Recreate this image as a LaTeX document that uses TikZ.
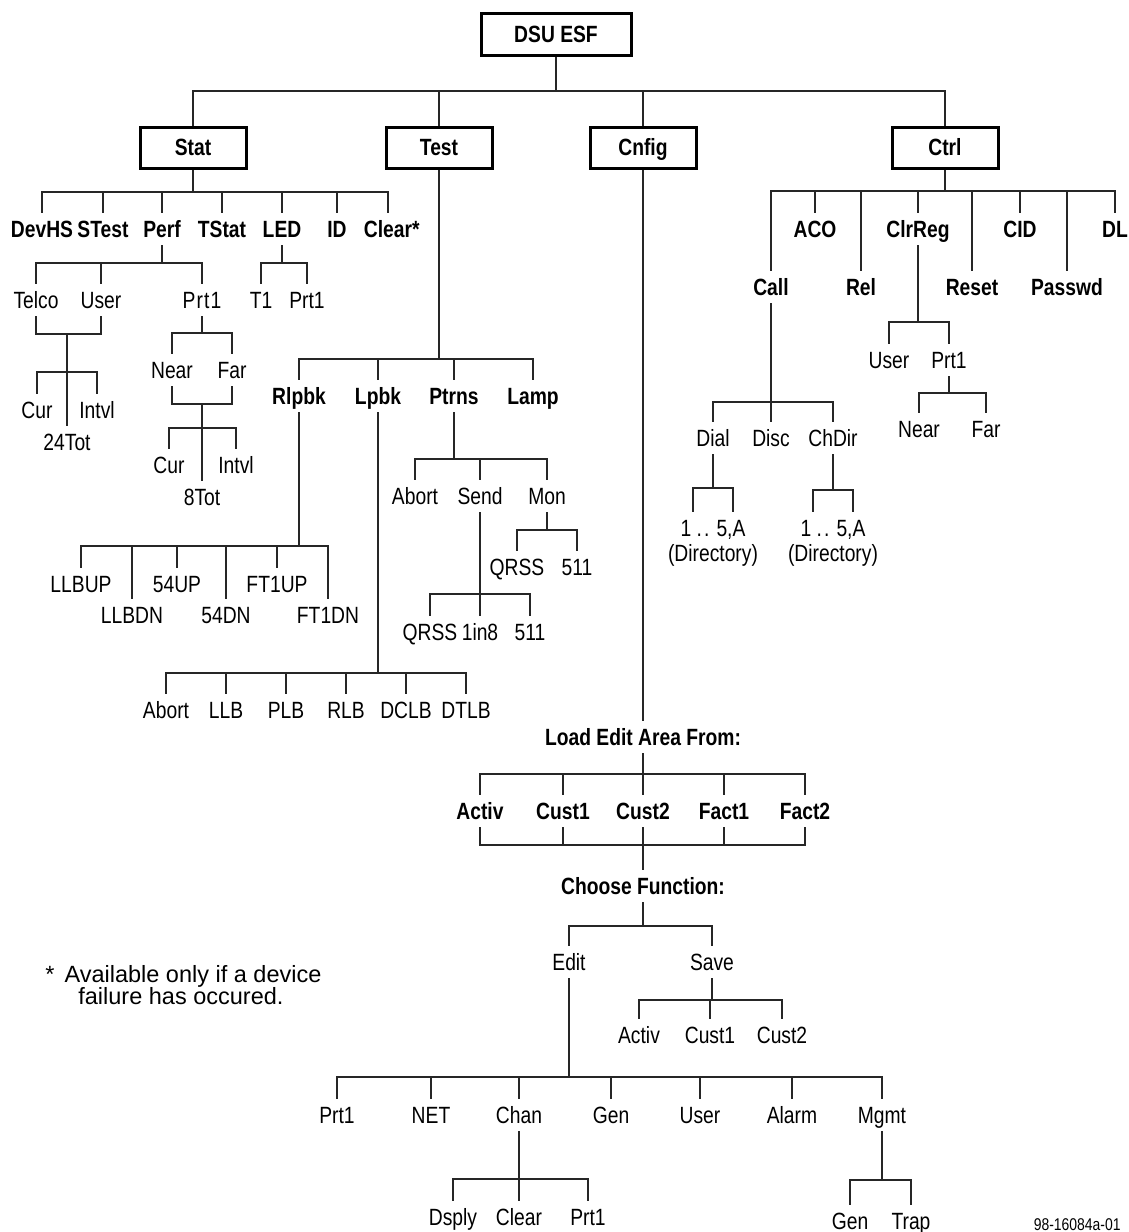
\documentclass[tikz,border=0pt]{standalone}
\usepackage{fontspec}
\setmainfont{Liberation Sans}[FakeStretch=0.82]
\newfontfamily\plainsans{Liberation Sans}
\tikzset{
  menu/.style={draw,line width=1.5pt,minimum width=53pt,minimum height=20.5pt,
    inner sep=0pt,text height=8.4pt,text depth=0pt,
    font=\bfseries\fontsize{11.75}{13}\selectfont},
  item/.style={inner sep=0pt,outer xsep=0pt,outer ysep=4pt,
    text height=8.4pt,text depth=0pt,font=\fontsize{11.75}{13}\selectfont},
  bitem/.style={item,font=\bfseries\fontsize{11.75}{13}\selectfont},
  link/.style={draw=black!85,line width=0.75pt},
}

\begin{document}
\begin{tikzpicture}[x=0.5pt,y=-0.5pt]
\useasboundingbox (0,0) rectangle (1129,1232);

% main menu
\node[menu,minimum width=75pt,minimum height=21pt] (dsu) at (556,34.5) {DSU ESF};
\node[menu] (stat) at (193,147.5) {Stat};
\node[menu] (test) at (439,147.5) {Test};
\node[menu] (cnfig) at (643,147.5) {Cnfig};
\node[menu] (ctrl) at (945,147.5) {Ctrl};
\coordinate (topbar) at (556,91);
\draw[link] (dsu) -- (topbar);
\foreach \c in {stat,test,cnfig,ctrl} \draw[link] (\c) |- (topbar);

% Stat
\node[bitem] (devhs) at (42,229) {DevHS};
\node[bitem] (stest) at (103,229) {STest};
\node[bitem] (perf) at (162,229) {Perf};
\node[bitem] (tstat) at (222,229) {TStat};
\node[bitem] (led) at (282,229) {LED};
\node[bitem] (id) at (337,229) {ID};
\node[bitem] (clear) at (388,229) {Clear\rlap{*}};
\coordinate (statbar) at (193,192);
\draw[link] (stat) -- (statbar);
\foreach \c in {devhs,stest,perf,tstat,led,id,clear} \draw[link] (\c.north) |- (statbar);

\node[item] (telco) at (36,300) {Telco};
\node[item] (user) at (101,300) {User};
\node[item] (perfprt) at (202,300) {P\kern.6pt r\kern.6pt t\kern.6pt 1};
\coordinate (perfbar) at (162,263);
\draw[link] (perf) -- (perfbar);
\foreach \c in {telco,user,perfprt} \draw[link] (\c.north) |- (perfbar);

\node[item] (ledt) at (261,300) {T1};
\node[item] (ledprt) at (307,300) {Prt1};
\coordinate (ledbar) at (282,263);
\draw[link] (led) -- (ledbar);
\foreach \c in {ledt,ledprt} \draw[link] (\c.north) |- (ledbar);

\coordinate (tujoin) at (67,334);
\foreach \c in {telco,user} \draw[link] (\c.south) |- (tujoin);
\node[item] (cura) at (37,410) {Cur};
\node[item] (intvla) at (97,410) {Intvl};
\node[item] (tota) at (67,442) {24Tot};
\coordinate (curabar) at (67,372);
\draw[link] (tujoin) -- (tota);
\foreach \c in {cura,intvla} \draw[link] (\c.north) |- (curabar);

\node[item] (neara) at (172,370) {Near};
\node[item] (fara) at (232,370) {Far};
\coordinate (nfbar) at (202,333);
\draw[link] (perfprt) -- (nfbar);
\foreach \c in {neara,fara} \draw[link] (\c.north) |- (nfbar);
\coordinate (nfjoin) at (202,404);
\foreach \c in {neara,fara} \draw[link] (\c.south) |- (nfjoin);
\node[item] (curb) at (169,465) {Cur};
\node[item] (intvlb) at (236,465) {Intvl};
\node[item] (totb) at (202,497) {8Tot};
\coordinate (curbbar) at (202,428);
\draw[link] (nfjoin) -- (totb);
\foreach \c in {curb,intvlb} \draw[link] (\c.north) |- (curbbar);

% Test
\node[bitem] (rlpbk) at (299,396) {Rlpbk};
\node[bitem] (lpbk) at (378,396) {Lpbk};
\node[bitem] (ptrns) at (454,396) {Ptrns};
\node[bitem] (lamp) at (533,396) {Lamp};
\coordinate (testbar) at (439,359);
\draw[link] (test) -- (testbar);
\foreach \c in {rlpbk,lpbk,ptrns,lamp} \draw[link] (\c.north) |- (testbar);

\node[item] (llbup) at (81,584) {LLBUP};
\node[item] (llbdn) at (132,615) {LLBDN};
\node[item] (upa) at (177,584) {54UP};
\node[item] (dna) at (226,615) {54DN};
\node[item] (ftup) at (277,584) {FT1UP};
\node[item] (ftdn) at (328,615) {FT1DN};
\coordinate (rlpbar) at (299,546);
\draw[link] (rlpbk) -- (rlpbar);
\foreach \c in {llbup,llbdn,upa,dna,ftup,ftdn} \draw[link] (\c.north) |- (rlpbar);

\node[item] (aborta) at (166,710) {Abort};
\node[item] (llb) at (226,710) {LLB};
\node[item] (plb) at (286,710) {PLB};
\node[item] (rlb) at (346,710) {RLB};
\node[item] (dclb) at (406,710) {DCLB};
\node[item] (dtlb) at (466,710) {DTLB};
\coordinate (lpbar) at (378,673);
\draw[link] (lpbk) -- (lpbar);
\foreach \c in {aborta,llb,plb,rlb,dclb,dtlb} \draw[link] (\c.north) |- (lpbar);

\node[item] (abortb) at (415,496) {Abort};
\node[item] (send) at (480,496) {Send};
\node[item] (mon) at (547,496) {Mon};
\coordinate (ptrbar) at (454,459);
\draw[link] (ptrns) -- (ptrbar);
\foreach \c in {abortb,send,mon} \draw[link] (\c.north) |- (ptrbar);

\node[item] (qrssa) at (430,632) {QRSS};
\node[item] (ineight) at (480,632) {1in8};
\node[item] (fivea) at (530,632) {511};
\coordinate (sendbar) at (480,594);
\draw[link] (send) -- (ineight);
\foreach \c in {qrssa,fivea} \draw[link] (\c.north) |- (sendbar);

\node[item] (qrssb) at (517,567) {QRSS};
\node[item] (fiveb) at (577,567) {511};
\coordinate (monbar) at (547,530);
\draw[link] (mon) -- (monbar);
\foreach \c in {qrssb,fiveb} \draw[link] (\c.north) |- (monbar);

% Cnfig
\node[bitem] (load) at (643,737) {Load Edit Area From:};
\draw[link] (cnfig) -- (load);
\node[bitem] (activ) at (480,811) {Activ};
\node[bitem] (custa) at (563,811) {Cust1};
\node[bitem] (custb) at (643,811) {Cust2};
\node[bitem] (facta) at (724,811) {Fact1};
\node[bitem] (factb) at (805,811) {Fact2};
\coordinate (loadbar) at (643,774);
\coordinate (loadjoin) at (643,845);
\draw[link] (load) -- (loadbar);
\foreach \c in {activ,custa,custb,facta,factb} {
  \draw[link] (\c.north) |- (loadbar);
  \draw[link] (\c.south) |- (loadjoin);
}
\node[bitem] (choose) at (643,886) {Choose Function:};
\draw[link] (loadjoin) -- (choose);

\node[item] (edit) at (569,962) {Edit};
\node[item] (save) at (712,962) {Save};
\coordinate (choosebar) at (643,926);
\draw[link] (choose) -- (choosebar);
\foreach \c in {edit,save} \draw[link] (\c.north) |- (choosebar);

\node[item] (sactiv) at (639,1035) {Activ};
\node[item] (scusta) at (710,1035) {Cust1};
\node[item] (scustb) at (782,1035) {Cust2};
\coordinate (savebar) at (712,1000);
\draw[link] (save) -- (savebar);
\foreach \c in {sactiv,scusta,scustb} \draw[link] (\c.north) |- (savebar);

\node[item] (eprt) at (337,1115) {Prt1};
\node[item] (enet) at (431,1115) {NET};
\node[item] (chan) at (519,1115) {Chan};
\node[item] (egen) at (611,1115) {Gen};
\node[item] (euser) at (700,1115) {User};
\node[item] (alarm) at (792,1115) {Alarm};
\node[item] (mgmt) at (882,1115) {Mgmt};
\coordinate (editbar) at (569,1077);
\draw[link] (edit) -- (editbar);
\foreach \c in {eprt,enet,chan,egen,euser,alarm,mgmt} \draw[link] (\c.north) |- (editbar);

\node[item] (dsply) at (453,1217) {Dsply};
\node[item] (cclear) at (519,1217) {Clear};
\node[item] (cprt) at (588,1217) {Prt1};
\coordinate (chanbar) at (519,1179);
\draw[link] (chan) -- (cclear);
\foreach \c in {dsply,cprt} \draw[link] (\c.north) |- (chanbar);

\node[item] (mgen) at (850,1221) {Gen};
\node[item] (trap) at (911,1221) {Trap};
\coordinate (mgmtbar) at (882,1180);
\draw[link] (mgmt) -- (mgmtbar);
\foreach \c in {mgen,trap} \draw[link] (\c.north) |- (mgmtbar);

% Ctrl
\node[bitem] (aco) at (815,229) {ACO};
\node[bitem] (clrreg) at (918,229) {ClrReg};
\node[bitem] (cid) at (1020,229) {CID};
\node[bitem] (dl) at (1115,229) {DL};
\node[bitem] (call) at (771,287) {Call};
\node[bitem] (rel) at (861,287) {Rel};
\node[bitem] (reset) at (972,287) {Reset};
\node[bitem] (passwd) at (1067,287) {Passwd};
\coordinate (ctrlbar) at (945,191);
\draw[link] (ctrl) -- (ctrlbar);
\foreach \c in {call,aco,rel,clrreg,reset,cid,passwd,dl} \draw[link] (\c.north) |- (ctrlbar);

\node[item] (userb) at (889,360) {User};
\node[item] (prtb) at (949,360) {Prt1};
\coordinate (clrbar) at (918,322);
\draw[link] (clrreg) -- (clrbar);
\foreach \c in {userb,prtb} \draw[link] (\c.north) |- (clrbar);

\node[item] (nearb) at (919,429) {Near};
\node[item] (farb) at (986,429) {Far};
\coordinate (prtbar) at (949,393);
\draw[link] (prtb) -- (prtbar);
\foreach \c in {nearb,farb} \draw[link] (\c.north) |- (prtbar);

\node[item] (dial) at (713,438) {Dial};
\node[item] (disc) at (771,438) {Disc};
\node[item] (chdir) at (833,438) {ChDir};
\coordinate (callbar) at (771,402);
\draw[link] (call) -- (callbar);
\foreach \c in {dial,disc,chdir} \draw[link] (\c.north) |- (callbar);

\node[item] (dira) at (713,528) {1 .\kern1pt. 5,A};
\node[item] (dirat) at (713,553) {(Directory)};
\coordinate (dialbar) at (713,488);
\draw[link] (dial) -- (dialbar);
\draw[link] (dira.north) ++(-20,0) |- (dialbar) -| ([xshift=10pt]dira.north);

\node[item] (dirb) at (833,528) {1 .\kern1pt. 5,A};
\node[item] (dirbt) at (833,553) {(Directory)};
\coordinate (chdirbar) at (833,490);
\draw[link] (chdir) -- (chdirbar);
\draw[link] (dirb.north) ++(-20,0) |- (chdirbar) -| ([xshift=10pt]dirb.north);

% note
\node[anchor=base west,inner sep=0pt,font=\plainsans\fontsize{11.75}{13}\selectfont] (note) at (45,982) {*\kern5pt Available only if a device};
\node[anchor=base west,inner sep=0pt,font=\plainsans\fontsize{11.75}{13}\selectfont] (notet) at (78,1004) {failure has occured.};
\node[anchor=base east,inner sep=0pt,font=\fontsize{8.5}{10}\selectfont] (figno) at (1121,1230) {98-16084a-01};
\end{tikzpicture}
\end{document}
